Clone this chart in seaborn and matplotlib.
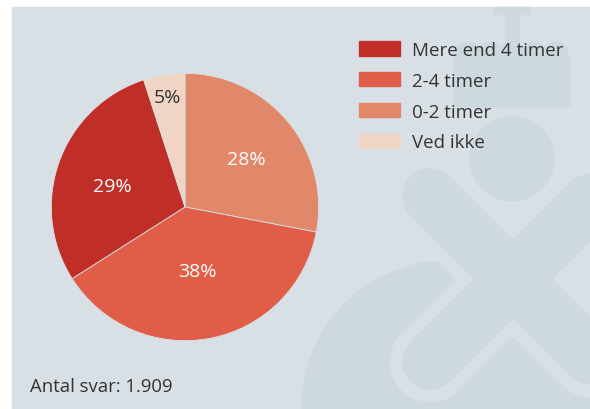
import matplotlib
matplotlib.use("Agg")
import matplotlib.pyplot as plt
import seaborn as sns
from matplotlib.patches import Rectangle, Circle, FancyBboxPatch
import numpy as np

# data (clockwise from 12 o'clock)
categories = ["0-2 timer", "2-4 timer", "Mere end 4 timer", "Ved ikke"]
shares = [28, 38, 29, 5]
slice_colors = ["#e1886a", "#e05e48", "#bf2e27", "#f0d4c4"]
legend_order = ["Mere end 4 timer", "2-4 timer", "0-2 timer", "Ved ikke"]
note = "Antal svar: 1.909"

sns.set_style("white")
plt.rcParams["font.family"] = ["Open Sans", "DejaVu Sans"]

bg = "#d8e0e6"
mark = "#ced9df"
W, H = 590, 410

fig = plt.figure(figsize=(5.9, 4.1), dpi=100, facecolor="white")

# background panel with faint watermark (crown, circle, cross)
bgax = fig.add_axes([0, 0, 1, 1])
bgax.set_xlim(0, W)
bgax.set_ylim(H, 0)
bgax.axis("off")
bgax.add_patch(Rectangle((12, 8), W - 12, H - 8, color=bg, zorder=0))
# crown
bgax.add_patch(FancyBboxPatch((458, 62), 108, 42, boxstyle="round,pad=4", color=mark, zorder=1))
for cx in (468, 490, 512, 534, 556):
    bgax.add_patch(Circle((cx, 55), 12, color=mark, zorder=1))
bgax.add_patch(Rectangle((505, 12), 14, 32, color=mark, zorder=1))
bgax.add_patch(Rectangle((494, 8), 36, 7, color=mark, zorder=1))
# head
bgax.add_patch(Circle((512, 160), 42, color=mark, zorder=1))
# lower blob
bgax.add_patch(Circle((448, 408), 146, color=mark, zorder=1))
# cross with light outline
for lw, col in ((58, bg), (40, mark)):
    bgax.plot([430, 640], [197, 407], color=col, lw=lw, solid_capstyle="round", zorder=2)
    bgax.plot([430, 640], [363, 153], color=col, lw=lw, solid_capstyle="round", zorder=2)

# pie
ax = fig.add_axes([50 / W, (H - 343) / H, 270 / W, 270 / H])
ax.set_aspect("equal")
wedges, _ = ax.pie(shares, colors=slice_colors, startangle=90, counterclock=False,
                   radius=1, wedgeprops=dict(linewidth=0.6, edgecolor=bg))
ax.set_xlim(-1.01, 1.01)
ax.set_ylim(-1.01, 1.01)
ax.axis("off")

label_r = [0.585, 0.49, 0.57, 0.83]
label_shift = [-1.5, 0, 3.5, 0]
for w, s, r, d in zip(wedges, shares, label_r, label_shift):
    ang = np.deg2rad((w.theta1 + w.theta2) / 2 + d)
    col = "#333333" if s < 10 else "white"
    ax.text(r * np.cos(ang), r * np.sin(ang), f"{s}%", ha="center", va="center",
            fontsize=14, color=col)

# legend
lookup = dict(zip(categories, slice_colors))
handles = [Rectangle((0, 0), 1, 1, color=lookup[c]) for c in legend_order]
fig.legend(handles, legend_order, loc="upper left", bbox_to_anchor=(359 / W, 1 - 42 / H),
           frameon=False, fontsize=13.5, handlelength=2.2, handleheight=0.8,
           labelspacing=0.68, handletextpad=0.64, borderpad=0, borderaxespad=0,
           labelcolor="#333333")

fig.text(30 / W, 1 - 387 / H, note, fontsize=13.3, color="#333333", va="center")

fig.savefig("out.png", dpi=100, facecolor="white")
